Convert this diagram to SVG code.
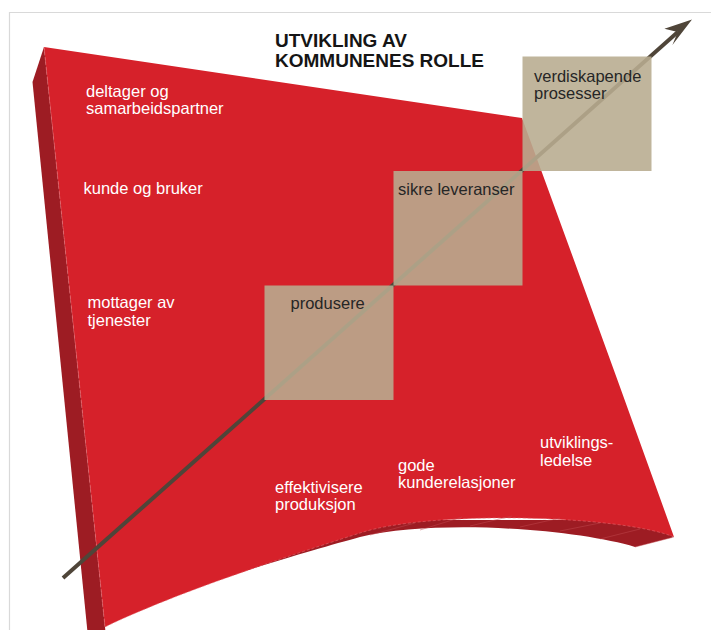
<svg xmlns="http://www.w3.org/2000/svg" width="711" height="630" viewBox="0 0 711 630">
  <style>
    .face { fill: #D6212A; }
    .side { fill: #9D1C23; }
    .edge { fill: none; stroke: #E8777C; stroke-width: 0.7; stroke-dasharray: 3 2; opacity: 0.7; }
    .facet { fill: none; stroke: #C24A50; stroke-width: 0.6; opacity: 0.8; }
    .box { fill: #B8AC90; fill-opacity: 0.89; }
    .shaft { fill: none; stroke: #4F4539; stroke-width: 4; }
    .head { fill: #4F4539; }
    .title { font-family: "Liberation Sans", Arial, sans-serif; font-weight: bold; font-size: 19px; fill: #151515; }
    .lbl { font-family: "Liberation Sans", Arial, sans-serif; font-size: 16.5px; fill: #FFFFFF; }
    .blbl { font-family: "Liberation Sans", Arial, sans-serif; font-size: 16.5px; fill: #262626; }
  </style>

  <rect x="0" y="0" width="711" height="630" fill="#FFFFFF"/>
  <path d="M9.5,640 L9.5,12.5 L720,12.5" fill="none" stroke="#D9D9D9" stroke-width="1.2"/>

  <g id="sheet">
    <path class="side" d="M44,47 L32.5,82 L87.5,632 L105.5,632 L105,627 Z"/>
    <path class="side" d="M674,537 L635,547 C580,530 440,518 360,537 C320,548 250,568 190,590 L300,520 L640,520 Z"/>
    <path class="face" d="M44,47 L522,118 Q598,325 674,537 C620,515 430,510 360,533 C320,546 180,590 105,627 Z"/>
    <path class="edge" d="M44,47 L105,627"/>
    <path class="edge" d="M674,537 C620,515 430,510 360,533 C320,546 180,590 105,627"/>
    <path class="facet" d="M635,547 L672,537.5 M600,539 L640,529 M560,531 L600,523 M520,527 L560,518 M470,526 L512,516 M420,530 L462,517 M370,535 L415,523"/>
  </g>

  <g id="connectors">
    <path class="shaft" d="M63,578 L677.8,32.1"/>
    <path class="head" d="M692,19.5 L672.4,45.0 L677.8,32.1 L664.4,28.8 Z"/>
  </g>

  <g id="node-produsere">
    <rect class="box" x="264.5" y="285.5" width="129" height="114.5"/>
    <text class="blbl" x="290.5" y="308.5">produsere</text>
  </g>

  <g id="node-sikre-leveranser">
    <rect class="box" x="393.5" y="171" width="129" height="114.5"/>
    <text class="blbl" x="398" y="195">sikre leveranser</text>
  </g>

  <g id="node-verdiskapende-prosesser">
    <rect class="box" x="522.5" y="56.5" width="129" height="114.5"/>
    <text class="blbl" x="534" y="81.5">verdiskapende</text>
    <text class="blbl" x="534" y="99">prosesser</text>
  </g>

  <g id="title">
    <text class="title" x="275" y="47">UTVIKLING AV</text>
    <text class="title" x="275" y="67">KOMMUNENES ROLLE</text>
  </g>

  <g id="label-deltager">
    <text class="lbl" x="86" y="96.5">deltager og</text>
    <text class="lbl" x="86" y="114">samarbeidspartner</text>
  </g>
  <g id="label-kunde">
    <text class="lbl" x="83.5" y="194">kunde og bruker</text>
  </g>
  <g id="label-mottager">
    <text class="lbl" x="87.5" y="308">mottager av</text>
    <text class="lbl" x="87.5" y="325.5">tjenester</text>
  </g>
  <g id="label-effektivisere">
    <text class="lbl" x="275" y="492.5">effektivisere</text>
    <text class="lbl" x="275" y="510">produksjon</text>
  </g>
  <g id="label-gode">
    <text class="lbl" x="398" y="470.5">gode</text>
    <text class="lbl" x="398" y="488">kunderelasjoner</text>
  </g>
  <g id="label-utviklings">
    <text class="lbl" x="540" y="448">utviklings-</text>
    <text class="lbl" x="540" y="465.5">ledelse</text>
  </g>
</svg>
